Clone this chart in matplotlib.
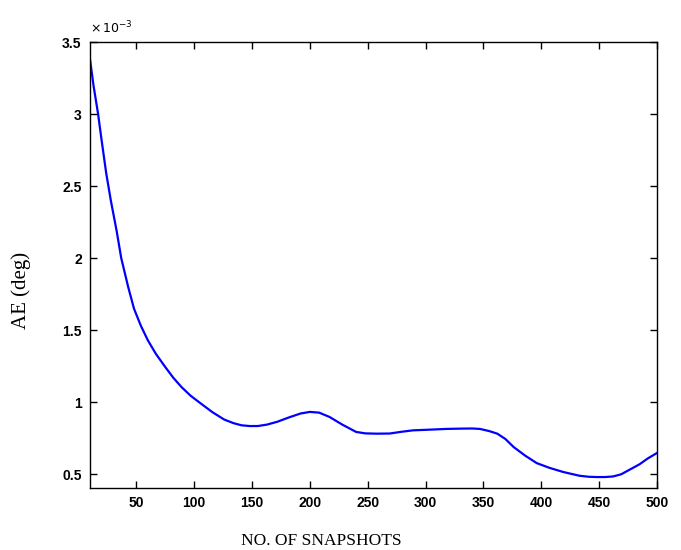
import matplotlib
matplotlib.use("Agg")
from matplotlib import pyplot as plt
from matplotlib.ticker import FuncFormatter

# snapshots vs angle error (deg)
snapshots = [10, 13, 17, 20, 24, 28, 33, 37, 43, 48, 54, 60, 67, 75, 82, 89, 97, 106,
             116, 126, 134, 141, 148, 155, 163, 172, 182, 192, 200, 208, 217, 228,
             240, 248, 258, 269, 279, 289, 304, 318, 330, 340, 347, 355, 362, 369,
             376, 386, 396, 407, 419, 433, 441, 448, 455, 462, 469, 477, 485, 492, 500]
ae = [3.38, 3.20, 3.00, 2.82, 2.59, 2.40, 2.19, 2.00, 1.80, 1.65, 1.53, 1.43, 1.335,
      1.245, 1.17, 1.106, 1.045, 0.99, 0.93, 0.88, 0.855, 0.84, 0.835, 0.835, 0.845,
      0.865, 0.895, 0.922, 0.933, 0.928, 0.898, 0.845, 0.794, 0.784, 0.782, 0.783,
      0.795, 0.805, 0.81, 0.815, 0.817, 0.818, 0.815, 0.80, 0.782, 0.745, 0.69,
      0.63, 0.578, 0.545, 0.516, 0.49, 0.483, 0.481, 0.481, 0.485, 0.50, 0.535,
      0.57, 0.61, 0.648]
ae = [v * 1e-3 for v in ae]

x_ticks = [50, 100, 150, 200, 250, 300, 350, 400, 450, 500]
y_ticks = [0.5e-3, 1e-3, 1.5e-3, 2e-3, 2.5e-3, 3e-3, 3.5e-3]

fig = plt.figure(figsize=(6.81, 5.5), dpi=100)
ax = fig.add_axes([90 / 681, 62 / 550, 567 / 681, 446 / 550])

ax.plot(snapshots, ae, color=(0, 0, 1), linewidth=1.6)

ax.set_xlim(10, 500)
ax.set_ylim(0.405e-3, 3.5e-3)
ax.set_xticks(x_ticks)
ax.set_yticks(y_ticks)
ax.yaxis.set_major_formatter(FuncFormatter(lambda v, p: "%g" % round(v * 1e3, 2)))

ax.tick_params(direction="in", top=True, right=True, length=5, width=1,
               labelsize=10, pad=6)
for lab in ax.get_xticklabels() + ax.get_yticklabels():
    lab.set_fontweight("bold")
    lab.set_family("Liberation Sans")
for s in ax.spines.values():
    s.set_linewidth(1)

# exponent label like matlab
ax.text(0.0, 1.012, r"$\times\,10^{-3}$", transform=ax.transAxes,
        fontsize=9, ha="left", va="bottom", fontweight="bold")

# axis titles sit off-centre in the original, so place them by hand
fig.text(321 / 681, 1 - 545 / 550, "NO. OF SNAPSHOTS", family="Liberation Serif",
         fontsize=12.5, ha="center", va="baseline")
fig.text(21 / 681, 1 - 290 / 550, "AE (deg)", family="Liberation Serif",
         fontsize=15, ha="center", va="center", rotation=90)

fig.savefig("out.png", dpi=100)
